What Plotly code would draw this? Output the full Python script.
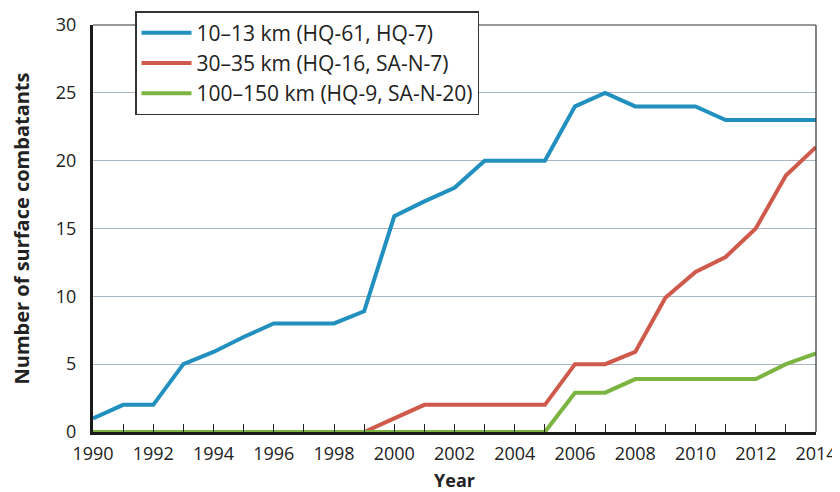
import plotly.graph_objects as go

years = list(range(1990, 2015))

short_range = [1, 2, 2, 5, 5.9, 7, 8, 8, 8, 8.9, 15.9, 17, 18, 20, 20, 20,
               24, 25, 24, 24, 24, 23, 23, 23, 23]
medium_range = [0, 0, 0, 0, 0, 0, 0, 0, 0, 0, 1, 2, 2, 2, 2, 2,
                5, 5, 5.9, 9.9, 11.8, 12.9, 15, 18.9, 21]
long_range = [0, 0, 0, 0, 0, 0, 0, 0, 0, 0, 0, 0, 0, 0, 0, 0,
              2.9, 2.9, 3.9, 3.9, 3.9, 3.9, 3.9, 5, 5.8]

series = [
    ("10–13 km (HQ-61, HQ-7)", short_range, "#2290bf"),
    ("30–35 km (HQ-16, SA-N-7)", medium_range, "#cf5a4b"),
    ("100–150 km (HQ-9, SA-N-20)", long_range, "#7cb442"),
]

FONT = "Open Sans"

fig = go.Figure()
for name, vals, color in series:
    fig.add_trace(
        go.Scatter(
            x=years,
            y=vals,
            mode="lines",
            name=name,
            line={"color": color, "width": 4},
        )
    )

# thin frame on top and right
fig.add_shape(type="line", xref="paper", yref="paper", x0=0, x1=1, y0=1, y1=1,
              line={"color": "#333333", "width": 1.2})
fig.add_shape(type="line", xref="paper", yref="paper", x0=1, x1=1, y0=0, y1=1,
              line={"color": "#333333", "width": 1.2})

fig.update_xaxes(
    range=[1990, 2014],
    dtick=2,
    tick0=1990,
    ticks="inside",
    ticklen=8,
    tickcolor="#222222",
    tickwidth=1,
    minor={"dtick": 1, "ticks": "inside", "ticklen": 8, "tickcolor": "#222222", "tickwidth": 1},
    showgrid=False,
    showline=True,
    linecolor="#1a1a1a",
    linewidth=3,
    zeroline=False,
    ticklabelstandoff=3,
    tickfont={"size": 18, "color": "#222222"},
    title={"text": "<b>Year</b>", "font": {"size": 18, "color": "#222222"}, "standoff": 18},
)
fig.update_yaxes(
    range=[0, 30],
    dtick=5,
    showgrid=True,
    gridcolor="#aab6bf",
    gridwidth=1,
    showline=True,
    linecolor="#1a1a1a",
    linewidth=3,
    zeroline=False,
    ticks="",
    ticklabelstandoff=10,
    tickfont={"size": 18, "color": "#222222"},
    title={"text": "<b>Number of surface combatants</b>",
           "font": {"size": 20, "color": "#222222"}, "standoff": 26},
)

# page body has an 8px margin, so the figure is sized/offset to compensate
fig.update_layout(
    width=832,
    height=484,
    margin={"l": 85, "r": 24, "t": 17, "b": 60, "autoexpand": False},
    paper_bgcolor="white",
    plot_bgcolor="white",
    font={"family": FONT, "color": "#222222"},
    legend={
        "x": (135 - 93) / 723,
        "y": 1 + 14 / 407,
        "xanchor": "left",
        "yanchor": "top",
        "bgcolor": "white",
        "bordercolor": "#333333",
        "borderwidth": 1.5,
        "itemwidth": 50,
        "font": {"size": 21, "color": "#222222"},
    },
)

fig.write_html("out.html")
